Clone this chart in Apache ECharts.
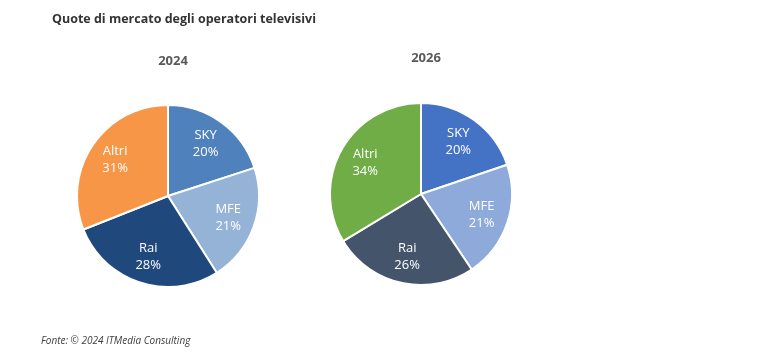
<!DOCTYPE html>
<html>
<head>
    <meta charset="utf-8" />
    <title></title>
    <script src="https://cdn.jsdelivr.net/npm/echarts@6/dist/echarts.min.js"></script>
    <style>
        html, body { margin: 0; padding: 0; background: #fff; }
        #main { width: 768px; height: 354px; }
    </style>
</head>
<body>
    <div id="main"></div>
    <script type="text/javascript">
        // dati
        var categories = ['SKY', 'MFE', 'Rai', 'Altri'];
        var values2024 = [20, 21, 28, 31];
        var values2026 = [20, 21, 26, 34];
        var colors2024 = ['#4f81bd', '#95b3d7', '#1f497d', '#f79646'];
        var colors2026 = ['#4472c4', '#8eaadb', '#44546a', '#70ad47'];

        var fontFamily = '"Open Sans", "Noto Sans", sans-serif';

        function buildData(values, colors) {
            var data = [];
            for (var i = 0; i < categories.length; i++) {
                data.push({ name: categories[i], value: values[i], itemStyle: { color: colors[i] } });
            }
            return data;
        }

        // torta visibile, senza etichette
        function pieSeries(center, values, colors) {
            return {
                type: 'pie',
                center: center,
                radius: [0, 91],
                startAngle: 90,
                clockwise: true,
                silent: true,
                data: buildData(values, colors),
                itemStyle: { borderColor: '#fff', borderWidth: 2 },
                label: { show: false },
                labelLine: { show: false }
            };
        }

        // anello trasparente usato solo per posizionare le etichette
        function labelSeries(center, values) {
            return {
                type: 'pie',
                center: center,
                radius: [31, 91],
                startAngle: 90,
                clockwise: true,
                silent: true,
                data: buildData(values, ['transparent', 'transparent', 'transparent', 'transparent']),
                itemStyle: { color: 'transparent' },
                label: {
                    show: true,
                    position: 'inside',
                    color: '#fff',
                    fontFamily: fontFamily,
                    fontSize: 13,
                    lineHeight: 17,
                    formatter: function (p) { return p.name + '\n' + p.value + '%'; }
                },
                labelLine: { show: false }
            };
        }

        var myChart = echarts.init(document.getElementById('main'));
        var option = {
            animation: false,
            backgroundColor: '#fff',
            title: [
                {
                    text: 'Quote di mercato degli operatori televisivi',
                    left: 47, top: 8,
                    textStyle: { fontFamily: fontFamily, fontSize: 12.5, fontWeight: 'bold', color: '#333' }
                },
                {
                    text: '2024',
                    left: 168, top: 50, textAlign: 'center',
                    textStyle: { fontFamily: fontFamily, fontSize: 13, fontWeight: 'bold', color: '#595959' }
                },
                {
                    text: '2026',
                    left: 421, top: 47, textAlign: 'center',
                    textStyle: { fontFamily: fontFamily, fontSize: 13, fontWeight: 'bold', color: '#595959' }
                },
                {
                    text: 'Fonte: © 2024 ITMedia Consulting',
                    left: 36, top: 331,
                    textStyle: { fontFamily: fontFamily, fontSize: 10, fontStyle: 'italic', fontWeight: 'normal', color: '#404040' }
                }
            ],
            series: [
                pieSeries([168, 196], values2024, colors2024),
                labelSeries([168, 196], values2024),
                pieSeries([421, 194], values2026, colors2026),
                labelSeries([421, 194], values2026)
            ]
        };
        myChart.setOption(option);
    </script>
</body>
</html>
